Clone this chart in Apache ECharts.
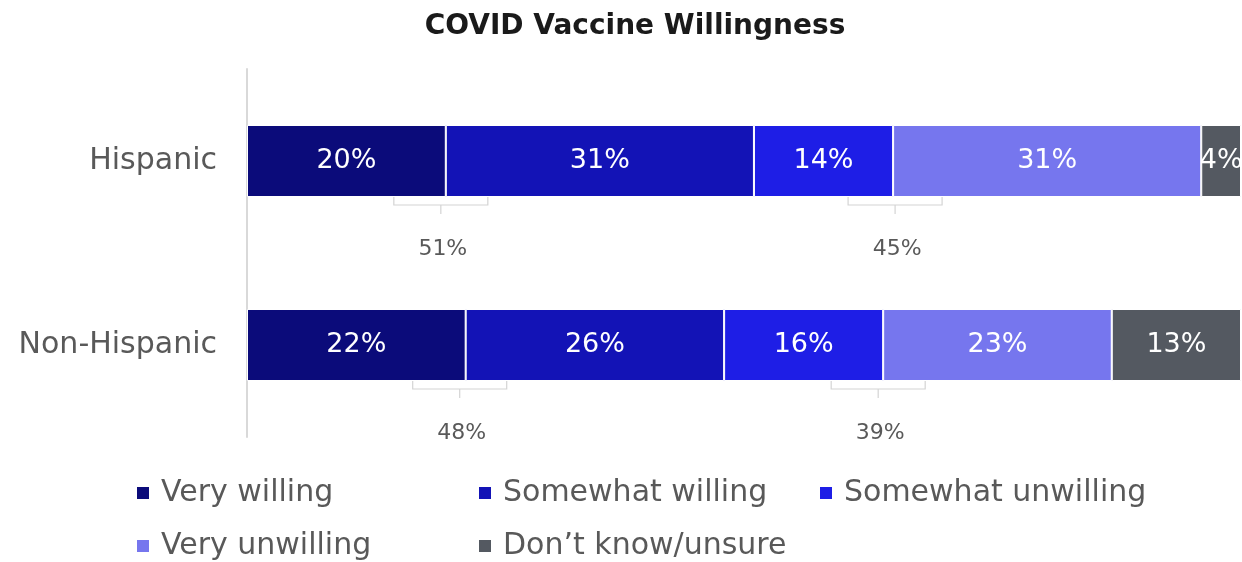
<!DOCTYPE html>
<html>
<head>
<meta charset="utf-8">
<script src="https://cdn.jsdelivr.net/npm/echarts@6/dist/echarts.min.js"></script>
<style>
html,body{margin:0;padding:0;background:#fff;}
#chart{width:1242px;height:562px;}
</style>
</head>
<body>
<div id="chart"></div>
<script>
var categories = ['Hispanic', 'Non-Hispanic'];
var seriesNames = ['Very willing', 'Somewhat willing', 'Somewhat unwilling', 'Very unwilling', 'Don\u2019t know/unsure'];
var veryWilling = [20, 22];
var somewhatWilling = [31, 26];
var somewhatUnwilling = [14, 16];
var veryUnwilling = [31, 23];
var dontKnow = [4, 13];
var willingTotal = [51, 48];
var unwillingTotal = [45, 39];
// bracket centre positions on the value axis
var willingBracketPos = [19.5, 21.4];
var unwillingBracketPos = [65.2, 63.5];

var colors = ['#0b0b7a', '#1313b6', '#1e1ee6', '#7676ee', '#545961'];
var values = [veryWilling, somewhatWilling, somewhatUnwilling, veryUnwilling, dontKnow];
var FONT = 'DejaVu Sans';
var TXT = '#595959';

var chart = echarts.init(document.getElementById('chart'));

var series = values.map(function (v, i) {
  return {
    name: seriesNames[i],
    type: 'bar',
    stack: 'total',
    barWidth: 72,
    data: v,
    itemStyle: { color: colors[i], borderColor: '#ffffff', borderWidth: 1 },
    label: {
      show: true,
      position: 'inside',
      color: '#ffffff',
      fontFamily: FONT,
      fontSize: 27,
      formatter: '{c}%'
    }
  };
});

var bracketData = [];
for (var k = 0; k < categories.length; k++) {
  bracketData.push([willingBracketPos[k], k, willingTotal[k]]);
  bracketData.push([unwillingBracketPos[k], k, unwillingTotal[k]]);
}

series.push({
  type: 'custom',
  name: 'brackets',
  silent: true,
  data: bracketData,
  encode: { x: 0, y: 1 },
  renderItem: function (params, api) {
    var p = api.coord([api.value(0), api.value(1)]);
    var cx = p[0];
    var y0 = p[1] + 36;
    var hw = 47;
    return {
      type: 'group',
      children: [
        {
          type: 'polyline',
          shape: { points: [[cx - hw, y0], [cx - hw, y0 + 8], [cx + hw, y0 + 8], [cx + hw, y0]] },
          style: { stroke: '#d4d4d4', lineWidth: 1.2, fill: null }
        },
        {
          type: 'line',
          shape: { x1: cx, y1: y0 + 8, x2: cx, y2: y0 + 17 },
          style: { stroke: '#d4d4d4', lineWidth: 1.2 }
        },
        {
          type: 'text',
          style: {
            x: cx + 2, y: y0 + 52,
            text: api.value(2) + '%',
            fill: TXT,
            font: '22px "' + FONT + '"',
            textAlign: 'center',
            textVerticalAlign: 'middle'
          }
        }
      ]
    };
  }
});

function legendItem(name, left, top) {
  return {
    data: [name],
    left: left,
    top: top,
    padding: 0,
    icon: 'rect',
    itemWidth: 14,
    itemHeight: 14,
    selectedMode: false,
    textStyle: { color: TXT, fontFamily: FONT, fontSize: 30, lineHeight: 32, padding: [0, 0, 0, 6] }
  };
}

chart.setOption({
  animation: false,
  backgroundColor: '#ffffff',
  title: {
    text: 'COVID Vaccine Willingness',
    left: 635,
    top: 10,
    padding: 0,
    textAlign: 'center',
    textStyle: { fontFamily: FONT, fontWeight: 'bold', fontSize: 28, lineHeight: 34, color: '#1a1a1a' }
  },
  legend: [
    legendItem(seriesNames[0], 135, 477),
    legendItem(seriesNames[1], 477, 477),
    legendItem(seriesNames[2], 818, 477),
    legendItem(seriesNames[3], 135, 530),
    legendItem(seriesNames[4], 477, 530)
  ],
  grid: { left: 247, right: 1, top: 69, bottom: 125, containLabel: false },
  xAxis: { type: 'value', min: 0, max: 100, show: false },
  yAxis: {
    type: 'category',
    data: categories,
    inverse: true,
    axisLine: { show: true, lineStyle: { color: '#d9d9d9', width: 2 } },
    axisTick: { show: false },
    axisLabel: { color: TXT, fontFamily: FONT, fontSize: 30, margin: 30 }
  },
  series: series
});
</script>
</body>
</html>
